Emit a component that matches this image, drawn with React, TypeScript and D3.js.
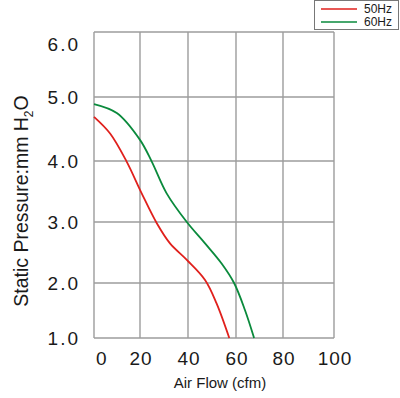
import * as d3 from 'd3';
import React from 'react';

// axis ticks
const flowTicks = [0, 20, 40, 60, 80, 100];
const pressureTicks = [1, 2, 3, 4, 5, 6];

// curves: air flow (cfm) / static pressure (mm H2O)
const flow50 = [0, 7, 14.2, 20.7, 27, 32.5, 39.5, 47.1, 51.9, 57.2];
const press50 = [4.69, 4.43, 3.99, 3.47, 2.98, 2.65, 2.38, 2.05, 1.63, 1.0];

const flow60 = [0, 9.9, 20, 24.9, 31.1, 39.5, 47.1, 54, 59.2, 63.8, 67.7];
const press60 = [4.89, 4.75, 4.33, 3.99, 3.47, 3.0, 2.65, 2.32, 2.0, 1.51, 1.0];

const seriesNames = ['50Hz', '60Hz'];
const seriesColors = ['#e0201c', '#0a8a3c'];

function App() {
  const ref = React.useRef(null);

  React.useEffect(() => {
    const width = 400;
    const height = 398;
    const font = 'Liberation Sans, Arial, sans-serif';

    // the original grid is not quite even, so the scales are piecewise
    const x = d3.scaleLinear().domain(flowTicks).range([94, 140, 188, 236, 283, 334]);
    const y = d3.scaleLinear().domain(pressureTicks).range([338, 283, 222, 161, 97, 32]);

    const svg = d3.select(ref.current);
    svg.selectAll('*').remove();
    svg.attr('width', width).attr('height', height);

    svg.append('rect')
      .attr('width', width).attr('height', height).attr('fill', '#fff');

    // grid
    const grid = svg.append('g')
      .attr('stroke', '#9c9c9c')
      .attr('stroke-width', 1.4);

    grid.selectAll('.v')
      .data(flowTicks)
      .join('line')
        .attr('x1', d => x(d)).attr('x2', d => x(d))
        .attr('y1', y(6)).attr('y2', y(1));

    grid.selectAll('.h')
      .data(pressureTicks)
      .join('line')
        .attr('x1', x(0)).attr('x2', x(100))
        .attr('y1', d => y(d)).attr('y2', d => y(d));

    // tick labels
    svg.append('g')
      .attr('font-family', font)
      .attr('font-size', 19)
      .attr('fill', '#1a1a1a')
      .attr('text-anchor', 'end')
      .attr('letter-spacing', 2)
      .selectAll('text')
      .data(pressureTicks)
      .join('text')
        .attr('x', 80)
        .attr('y', d => Math.max(y(d), y(6) + 12))
        .attr('dy', '0.36em')
        .text(d => d3.format('.1f')(d));

    svg.append('g')
      .attr('font-family', font)
      .attr('font-size', 19)
      .attr('fill', '#1a1a1a')
      .attr('letter-spacing', 1)
      .selectAll('text')
      .data(flowTicks)
      .join('text')
        .attr('text-anchor', (d, i) => i ? 'middle' : 'start')
        .attr('x', (d, i) => i ? x(d) + 1 : x(d) + 2)
        .attr('y', 365)
        .text(d => d);

    // axis titles
    svg.append('text')
      .attr('font-family', font)
      .attr('font-size', 15)
      .attr('fill', '#1a1a1a')
      .attr('text-anchor', 'middle')
      .attr('x', 220).attr('y', 388)
      .text('Air Flow (cfm)');

    const yt = svg.append('text')
      .attr('font-family', font)
      .attr('font-size', 19.5)
      .attr('fill', '#1a1a1a')
      .attr('text-anchor', 'middle')
      .attr('transform', 'translate(28,201) rotate(-90)');
    yt.append('tspan').text('Static Pressure:mm H');
    yt.append('tspan').attr('font-size', 12).attr('dy', 5).text('2');
    yt.append('tspan').attr('dy', -5).text('O');

    // curves
    const line = d3.line()
      .x(d => x(d[0]))
      .y(d => y(d[1]))
      .curve(d3.curveCatmullRom.alpha(0.5));

    const curves = [
      d3.zip(flow50, press50),
      d3.zip(flow60, press60),
    ];

    svg.append('g')
      .attr('fill', 'none')
      .attr('stroke-width', 1.8)
      .selectAll('path')
      .data(curves)
      .join('path')
        .attr('stroke', (d, i) => seriesColors[i])
        .attr('d', line);

    // legend
    const legend = svg.append('g');
    legend.append('rect')
      .attr('x', 314.5).attr('y', 0.5)
      .attr('width', 84).attr('height', 29)
      .attr('fill', '#fff')
      .attr('stroke', '#777');

    const items = legend.selectAll('g')
      .data(seriesNames)
      .join('g')
        .attr('transform', (d, i) => `translate(0,${9 + i * 13})`);
    items.append('line')
      .attr('x1', 321).attr('x2', 357)
      .attr('stroke', (d, i) => seriesColors[i])
      .attr('stroke-width', 1.6);
    items.append('text')
      .attr('x', 364).attr('dy', '0.36em')
      .attr('font-family', font)
      .attr('font-size', 12)
      .attr('fill', '#1a1a1a')
      .text(d => d);
  }, []);

  return (
    <div style={{ position: 'absolute', left: 0, top: 0 }}>
      <svg ref={ref} style={{ display: 'block' }}></svg>
    </div>
  );
}

export default App;
